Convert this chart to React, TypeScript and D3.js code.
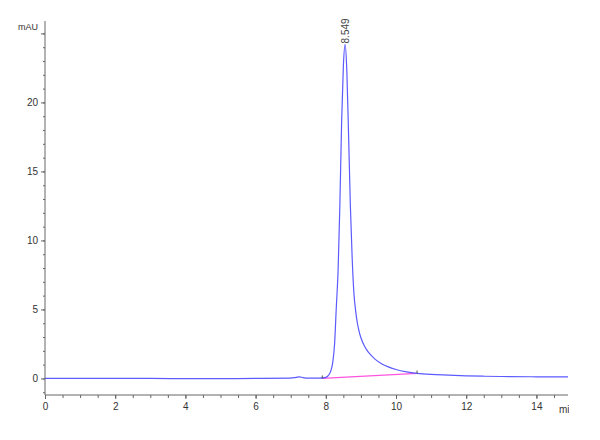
import React, { useEffect, useRef } from 'react';
import * as d3 from 'd3';

// retention time (min) and absorbance (mAU)
const times = [0, 1, 2, 3, 4, 5, 6, 7, 7.15, 7.25, 7.35, 7.5, 7.8, 8.0, 8.1, 8.15, 8.2, 8.25, 8.3, 8.35, 8.4, 8.45, 8.5, 8.55, 8.6, 8.65, 8.7, 8.75, 8.8, 8.85, 8.9, 8.95, 9.0, 9.1, 9.2, 9.3, 9.4, 9.6, 9.8, 10.0, 10.3, 10.6, 11, 11.5, 12, 12.5, 13, 14, 14.9];
const signal = [0, 0, 0, 0, -0.02, -0.02, 0, 0.02, 0.08, 0.12, 0.06, 0.02, 0.02, 0.08, 0.3, 0.6, 1.2, 2.5, 5.2, 7.8, 12.5, 18.5, 22.6, 24.2, 22.2, 17.5, 12.5, 8.8, 6.2, 4.9, 4.0, 3.4, 2.95, 2.35, 1.95, 1.65, 1.4, 1.05, 0.82, 0.65, 0.48, 0.37, 0.29, 0.24, 0.19, 0.16, 0.14, 0.12, 0.11];
// integration baseline
const baseTimes = [7.9, 10.6];
const baseValues = [0.0, 0.36];
const peakLabel = '8.549';
const peakTime = 8.549;
const peakValue = 24.2;

const yMajor = [0, 5, 10, 15, 20, 25];
const yLabels = ['0', '5', '10', '15', '20', ''];
const xMajor = [0, 2, 4, 6, 8, 10, 12, 14];

export default function App() {
  const ref = useRef<SVGSVGElement>(null);
  const width = 600;
  const height = 440;

  useEffect(() => {
    const svg = d3.select(ref.current);
    svg.selectAll('*').remove();

    const x = d3.scaleLinear().domain([0, 14.9]).range([45, 568]);
    const y = d3.scaleLinear().domain([-1.2, 25.9]).range([395, 21]);
    const font = '"Liberation Sans Narrow", "Liberation Sans", sans-serif';

    // y axis minor ticks
    svg
      .append('g')
      .attr('transform', 'translate(45,0)')
      .call(d3.axisLeft(y).tickValues(d3.range(-1, 26, 1)).tickSize(2).tickFormat(() => ''))
      .call((g) => g.select('.domain').remove())
      .call((g) => g.selectAll('line').attr('stroke', '#666'));

    // y axis major
    svg
      .append('g')
      .attr('transform', 'translate(45,0)')
      .call(
        d3
          .axisLeft(y)
          .tickValues(yMajor)
          .tickSize(4)
          .tickPadding(3)
          .tickFormat((d, i) => yLabels[i])
      )
      .call((g) => g.select('.domain').attr('d', 'M0,395V21').attr('stroke', '#666'))
      .call((g) => g.selectAll('line').attr('stroke', '#666'))
      .call((g) => g.selectAll('text').attr('font-family', font).attr('font-size', 10).attr('fill', '#333'));

    // x axis minor ticks
    svg
      .append('g')
      .attr('transform', 'translate(0,395)')
      .call(d3.axisBottom(x).tickValues(d3.range(0, 15, 0.5)).tickSize(3).tickFormat(() => ''))
      .call((g) => g.select('.domain').remove())
      .call((g) => g.selectAll('line').attr('stroke', '#666'));

    // x axis major
    svg
      .append('g')
      .attr('transform', 'translate(0,395)')
      .call(d3.axisBottom(x).tickValues(xMajor).tickSize(4).tickPadding(4).tickFormat(d3.format('d')))
      .call((g) => g.select('.domain').attr('d', 'M45,0H568').attr('stroke', '#666'))
      .call((g) => g.selectAll('line').attr('stroke', '#666'))
      .call((g) => g.selectAll('text').attr('font-family', font).attr('font-size', 10).attr('fill', '#333'));

    // unit labels
    svg
      .append('text')
      .attr('x', 38)
      .attr('y', 30)
      .attr('text-anchor', 'end')
      .attr('font-family', font)
      .attr('font-size', 9)
      .attr('fill', '#333')
      .text('mAU');

    svg
      .append('clipPath')
      .attr('id', 'clipx')
      .append('rect')
      .attr('x', 540)
      .attr('y', 400)
      .attr('width', 29)
      .attr('height', 20);
    svg
      .append('text')
      .attr('x', 559)
      .attr('y', 413)
      .attr('clip-path', 'url(#clipx)')
      .attr('font-family', font)
      .attr('font-size', 10)
      .attr('fill', '#333')
      .text('min');

    // baseline
    const basePts = baseTimes.map((t, i) => [t, baseValues[i]] as [number, number]);
    svg
      .append('path')
      .attr(
        'd',
        d3
          .line<[number, number]>()
          .x((d) => x(d[0]))
          .y((d) => y(d[1]))(basePts)
      )
      .attr('fill', 'none')
      .attr('stroke', '#ff55dd')
      .attr('stroke-width', 1.3);

    // trace
    const pts = times.map((t, i) => [t, signal[i]] as [number, number]);
    svg
      .append('path')
      .attr(
        'd',
        d3
          .line<[number, number]>()
          .x((d) => x(d[0]))
          .y((d) => y(d[1]))
          .curve(d3.curveMonotoneX)(pts)
      )
      .attr('fill', 'none')
      .attr('stroke', '#5b5bff')
      .attr('stroke-width', 1.2);

    // baseline markers
    svg
      .append('g')
      .selectAll('line')
      .data(basePts)
      .enter()
      .append('line')
      .attr('x1', (d) => x(d[0]))
      .attr('x2', (d) => x(d[0]))
      .attr('y1', (d) => y(d[1]))
      .attr('y2', (d) => y(d[1]) - 3)
      .attr('stroke', '#555')
      .attr('stroke-width', 1);

    // peak label
    svg
      .append('text')
      .attr('transform', `translate(${x(peakTime) + 3.5},${y(peakValue) - 1}) rotate(-90)`)
      .attr('font-family', '"Liberation Sans", sans-serif')
      .attr('font-size', 10)
      .attr('fill', '#444')
      .text(peakLabel);
  }, []);

  return (
    <svg
      ref={ref}
      width={width}
      height={height}
      style={{ position: 'absolute', left: 0, top: 0, background: '#fff' }}
    />
  );
}
